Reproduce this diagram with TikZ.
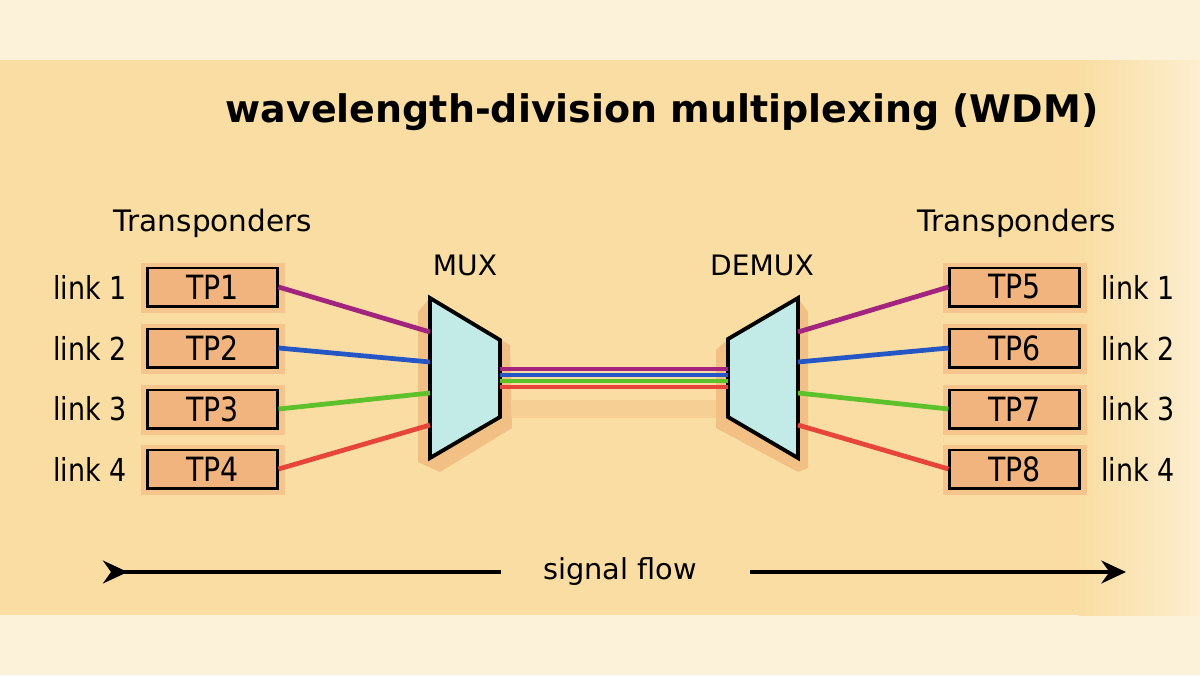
\documentclass[tikz,border=0pt]{standalone}
\usepackage{fontspec}
\setmainfont{DejaVu Sans}
\newfontfamily\condfont[FakeStretch=0.85]{DejaVu Sans}
\usetikzlibrary{arrows.meta,positioning}

\definecolor{paper}{HTML}{FCF2D9}
\definecolor{wash}{HTML}{F9DDA2}
\definecolor{washlight}{HTML}{FCEED0}
\definecolor{tpfill}{HTML}{F2B47E}
\definecolor{tphalo}{HTML}{F6C58E}
\definecolor{muxfill}{HTML}{C2EAE6}
\definecolor{muxshadow}{HTML}{EDA96C}
\definecolor{fibA}{HTML}{A3247F}
\definecolor{fibB}{HTML}{2556C6}
\definecolor{fibC}{HTML}{5CC12B}
\definecolor{fibD}{HTML}{E8453A}

\tikzset{
    tpbox/.style={draw=black, line width=0.85pt, fill=tpfill,
        minimum width=1.29cm, minimum height=0.38cm, inner sep=0pt,
        font=\condfont\fontsize{9.5}{10}\selectfont},
    lbl/.style={font=\fontsize{8}{9}\selectfont, inner sep=1pt},
    linklbl/.style={font=\condfont\fontsize{9}{10}\selectfont, inner sep=1pt},
    fiber/.style={line width=1.35pt},
    bundle/.style={line width=1.1pt},
    muxbody/.style={draw=black, line width=1.1pt, line join=miter, fill=muxfill},
}

\begin{document}
\begin{tikzpicture}[x=0.01cm, y=-0.01cm, >=Stealth]
    % 1. Nền giấy và lớp màu vẽ
    \fill[paper] (0,0) rectangle (1200,675);
    \fill[wash] (0,60) rectangle (1080,615);
    \shade[left color=wash, right color=washlight] (1079,60) rectangle (1200,615);

    % 2. Tiêu đề
    \node[font=\bfseries\fontsize{10.8}{12}\selectfont] (title) at (662,112)
        {wavelength-division multiplexing (WDM)};

    % 3. Transponders hai bên
    \node[lbl, font=\fontsize{8.4}{9}\selectfont] (tpl-head) at (213,223) {Transponders};
    \node[lbl, font=\fontsize{8.4}{9}\selectfont] (tpr-head) at (1017,223) {Transponders};

    \foreach \i/\y in {1/287, 2/348, 3/409, 4/469} {
        \pgfmathtruncatemacro{\j}{\i+4}
        \fill[tphalo] (141,\y-24) rectangle (285,\y+26);
        \fill[tphalo] (943,\y-24) rectangle (1087,\y+26);
        \node[tpbox] (tp\i) at (212.5,\y) {TP\i};
        \node[tpbox] (tp\j) at (1014.5,\y) {TP\j};
        \node[linklbl] (lkl\i) at (90,\y) {link \i};
        \node[linklbl] (lkr\i) at (1138,\y) {link \i};
    }

    % 4. Bộ MUX và DEMUX (hình thang)
    \fill[muxshadow, opacity=0.55] (418,312) -- (430,298) -- (510,345) -- (512,428) -- (440,472) -- (418,462) -- cycle;
    \fill[muxshadow, opacity=0.55] (716,350) -- (728,339) -- (798,298) -- (808,312) -- (808,468) -- (798,472) -- (716,428) -- cycle;
    \fill[muxshadow, opacity=0.25] (512,400) rectangle (716,418);

    \draw[muxbody] (430,298) -- (500,340) -- (500,417) -- (430,458) -- cycle;
    \draw[muxbody] (728,339) -- (798,298) -- (798,458) -- (728,417) -- cycle;
    \node[lbl] (mux) at (465,265) {MUX};
    \node[lbl] (demux) at (762,265) {DEMUX};

    % 5. Điểm nối trên cạnh MUX/DEMUX
    \foreach \i/\yin/\yf in {1/332/369, 2/362/375, 3/393/381, 4/425/387} {
        \coordinate (mux-in-\i) at (430,\yin);
        \coordinate (mux-out-\i) at (500,\yf);
        \coordinate (demux-in-\i) at (728,\yf);
        \coordinate (demux-out-\i) at (798,\yin);
    }

    % 6. Các sợi quang theo bước sóng
    \foreach \i/\c in {1/fibA, 2/fibB, 3/fibC, 4/fibD} {
        \pgfmathtruncatemacro{\j}{\i+4}
        \draw[fiber, \c] (tp\i.east) -- (mux-in-\i);
        \draw[bundle, \c] (mux-out-\i) -- (demux-in-\i);
        \draw[fiber, \c] (demux-out-\i) -- (tp\j.west);
    }

    % 7. Chiều tín hiệu
    \node[font=\fontsize{8.2}{9}\selectfont] (flow) at (620,572) {signal flow};
    \coordinate (flow-start) at (103,572);
    \coordinate (flow-left) at (501,572);
    \coordinate (flow-right) at (750,572);
    \coordinate (flow-end) at (1126,572);
    \draw[{Stealth[reversed, length=7pt, width=6.5pt]}-, line width=1pt] (flow-start) -- (flow-left);
    \draw[-{Stealth[length=7pt, width=6.5pt]}, line width=1pt] (flow-right) -- (flow-end);
\end{tikzpicture}
\end{document}
